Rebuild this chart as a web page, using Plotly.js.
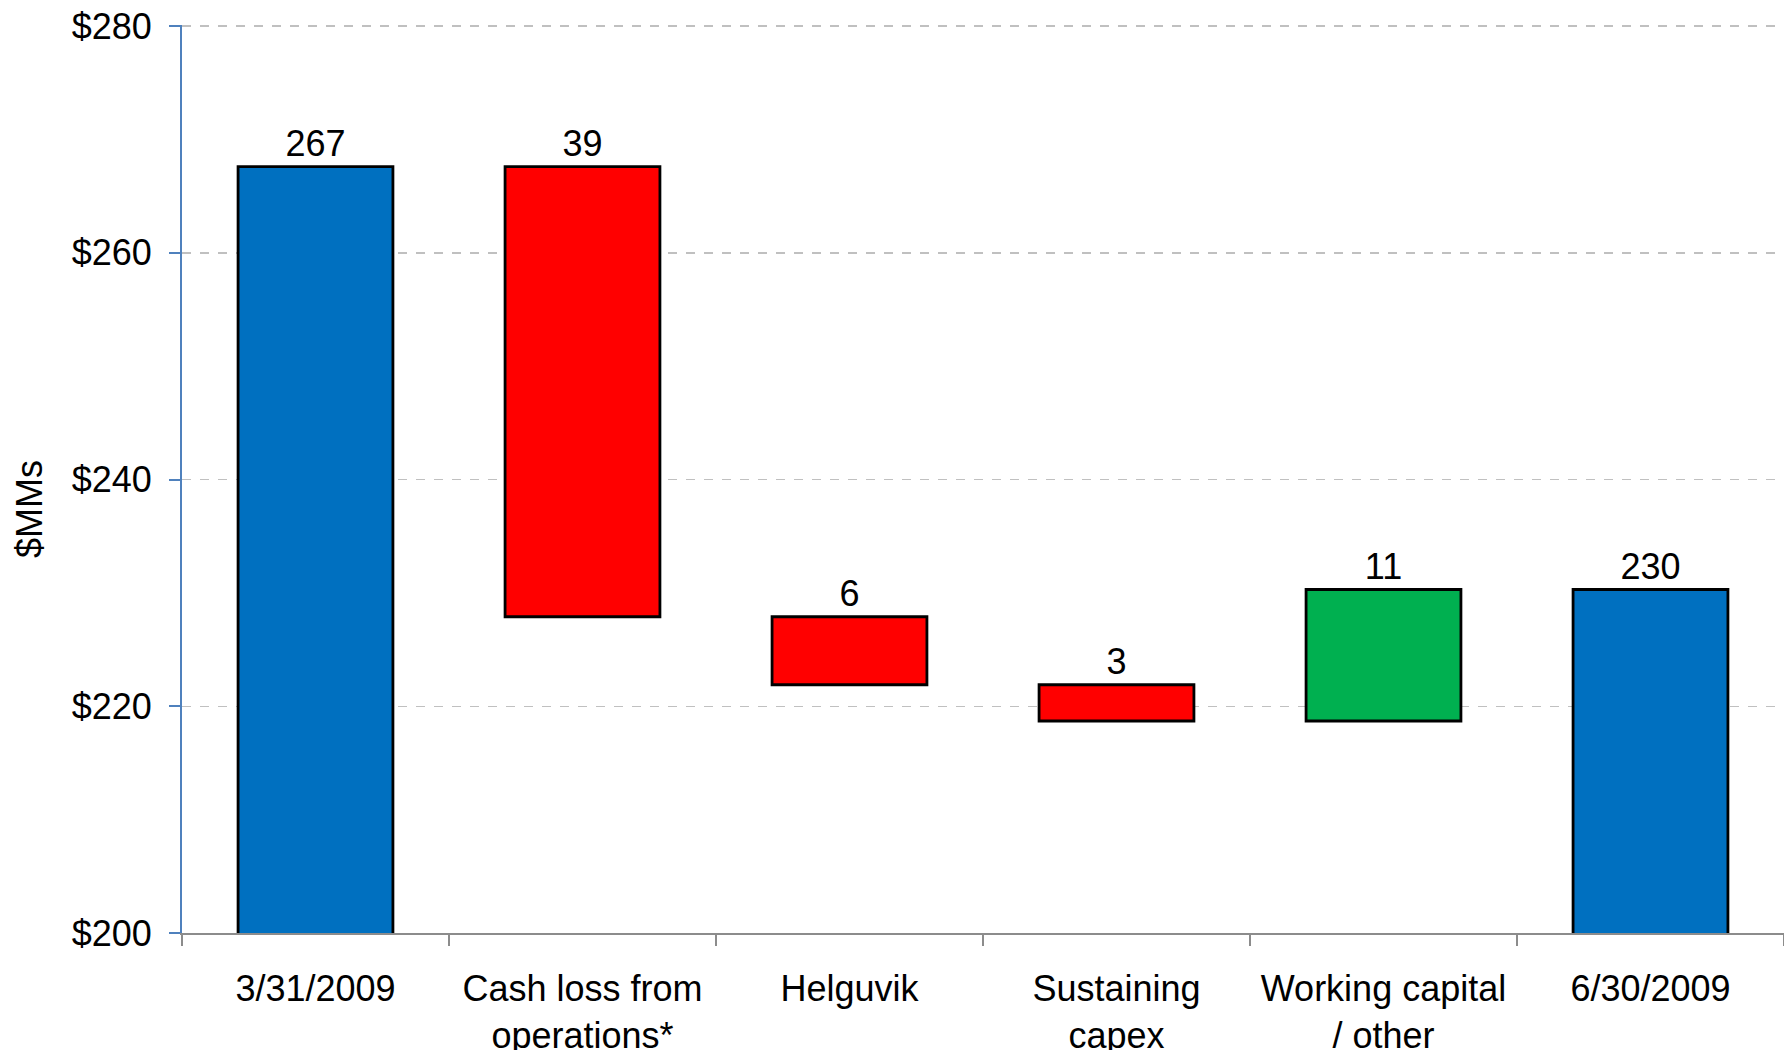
<!DOCTYPE html>
<html>
<head>
<meta charset="utf-8">
<script src="https://cdn.plot.ly/plotly-3.0.1.min.js"></script>
<style>
  html, body { margin: 0; padding: 0; background: #ffffff; }
  #chart { width: 1784px; height: 1050px; }
</style>
</head>
<body>
<div id="chart"></div>
<script>
// ---- data ----
var categories = ["3/31/2009", "Cash loss from<br>operations*", "Helguvik", "Sustaining<br>capex", "Working capital<br>/ other", "6/30/2009"];
var measures = ["absolute", "relative", "relative", "relative", "relative", "total"];
var values = [267.6, -39.7, -6.0, -3.2, 11.6, 230.3];
var valueLabels = ["267", "39", "6", "3", "11", "230"];
var yTickVals = [200, 220, 240, 260, 280];
var yTitle = "$MMs";

// ---- build waterfall segments ----
var bases = [], heights = [], colors = [];
var running = 0;
for (var i = 0; i < values.length; i++) {
  var m = measures[i], v = values[i];
  if (m === "absolute" || m === "total") {
    running = v;
    bases.push(0);
    heights.push(v);
    colors.push("#0070C0");
  } else {
    var next = running + v;
    bases.push(Math.min(running, next));
    heights.push(Math.abs(v));
    colors.push(v < 0 ? "#FF0000" : "#00B050");
    running = next;
  }
}

var FONT = "Liberation Sans, Arial, Helvetica, sans-serif";

var trace = {
  type: "bar",
  x: categories,
  y: heights,
  base: bases,
  text: valueLabels,
  textposition: "outside",
  textfont: { family: FONT, size: 36, color: "#000000" },
  marker: { color: colors, line: { color: "#000000", width: 2.8 } },
  hoverinfo: "skip",
  showlegend: false
};

var layout = {
  width: 1784,
  height: 1050,
  margin: { l: 182, r: 0, t: 25, b: 117 },
  paper_bgcolor: "#ffffff",
  plot_bgcolor: "#ffffff",
  bargap: 0.42,
  font: { family: FONT, size: 36, color: "#000000" },
  xaxis: {
    type: "category",
    range: [-0.5, 5.5],
    showline: true,
    linecolor: "#8c8c8c",
    linewidth: 2,
    ticks: "outside",
    tickson: "boundaries",
    ticklen: 11,
    tickcolor: "#8c8c8c",
    tickwidth: 2,
    ticklabelstandoff: 23,
    showgrid: false,
    tickfont: { family: FONT, size: 36, color: "#000000" },
    fixedrange: true
  },
  yaxis: {
    range: [200, 280.1],
    tickvals: yTickVals,
    ticktext: yTickVals.map(function (v) { return "$" + v; }),
    showline: true,
    linecolor: "#4F81BD",
    linewidth: 2,
    ticks: "outside",
    ticklen: 11,
    tickcolor: "#4F81BD",
    tickwidth: 2,
    ticklabelstandoff: 10,
    showgrid: true,
    gridcolor: "#c0c0c0",
    gridwidth: 1.5,
    griddash: "dash",
    zeroline: false,
    tickfont: { family: FONT, size: 36, color: "#000000" },
    fixedrange: true
  },
  annotations: [{
    text: yTitle,
    xref: "paper", yref: "paper",
    x: -0.0949, y: 0.467,
    xanchor: "center", yanchor: "middle",
    textangle: -90,
    showarrow: false,
    font: { family: FONT, size: 36, color: "#000000" }
  }]
};

Plotly.newPlot("chart", [trace], layout, { displayModeBar: false, staticPlot: true });
</script>
</body>
</html>
